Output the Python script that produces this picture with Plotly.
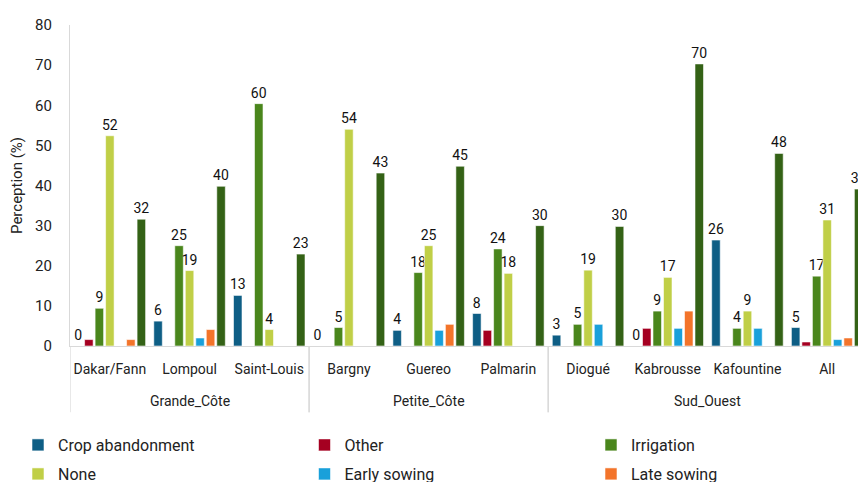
import plotly.graph_objects as go

categories = ["Dakar/Fann", "Lompoul", "Saint-Louis", "Bargny", "Guereo", "Palmarin",
              "Diogué", "Kabrousse", "Kafountine", "All"]
groups = ["Grande_Côte", "Grande_Côte", "Grande_Côte", "Petite_Côte", "Petite_Côte", "Petite_Côte",
          "Sud_Ouest", "Sud_Ouest", "Sud_Ouest", "Sud_Ouest"]

crop_abandonment = [0, 6.2, 12.6, 0, 3.9, 8.1, 2.7, 0, 26.4, 4.6]
other = [1.6, None, None, None, None, 3.9, None, 4.4, None, 1.0]
irrigation = [9.4, 25.0, 60.4, 4.6, 18.3, 24.2, 5.4, 8.7, 4.4, 17.4]
none_ = [52.4, 18.8, 4.1, 54.0, 25.0, 18.1, 18.9, 17.1, 8.7, 31.4]
early_sowing = [None, 2.0, None, None, 3.9, None, 5.4, 4.4, 4.4, 1.6]
late_sowing = [1.6, 4.1, None, None, 5.4, None, None, 8.7, None, 2.0]
series7 = [31.6, 39.8, 22.9, 43.1, 44.8, 30.0, 29.8, 70.3, 48.0, 39.1]

y_ticks = [0, 10, 20, 30, 40, 50, 60, 70, 80]

FONT = "Roboto, 'DejaVu Sans', sans-serif"
LINE = "#D9D9D9"
TXT = "#222222"

# name, values, colour, show value labels, legend id, legend column, legend row
series = [
    ("Crop abandonment", crop_abandonment, "#0E5E85", True, "legend", 0, 0),
    ("Other", other, "#A50021", False, "legend2", 1, 0),
    ("Irrigation", irrigation, "#4A861C", True, "legend3", 2, 0),
    ("None", none_, "#C0CF47", True, "legend4", 0, 1),
    ("Early sowing", early_sowing, "#19A0DA", False, "legend5", 1, 1),
    ("Late sowing", late_sowing, "#F3742A", False, "legend6", 2, 1),
    ("Series 7", series7, "#346216", True, None, None, None),
]

fig = go.Figure()
legend_layouts = {}
PLOT_W, PLOT_H, ML, MT = 788, 321, 70, 25
for name, vals, color, labelled, leg, col, row in series:
    kw = {}
    if labelled:
        kw = dict(texttemplate="%{y:.0f}", textposition="outside",
                  textfont=dict(family=FONT, size=14, color="#111111"),
                  constraintext="none", cliponaxis=True)
    fig.add_trace(go.Bar(
        x=categories, y=vals, name=name,
        marker=dict(color=color, line=dict(color="rgba(255,255,255,0.7)", width=0.8)),
        showlegend=leg is not None,
        legend=leg if leg else "legend",
        **kw,
    ))
    if leg:
        left_px = 18 + col * 286.5
        center_px = 445 + row * 29
        legend_layouts[leg] = dict(
            orientation="h", xanchor="left", yanchor="middle",
            x=(left_px - ML) / PLOT_W, y=(MT + PLOT_H - center_px) / PLOT_H,
            font=dict(family=FONT, size=16, color=TXT), bgcolor="rgba(0,0,0,0)")

# group dividers & labels
group_names = []
for g in groups:
    if g not in group_names:
        group_names.append(g)

shapes = []
annotations = []
for g in group_names:
    idx = [i for i, gg in enumerate(groups) if gg == g]
    start, end = idx[0] - 0.5, idx[-1] + 0.5
    for xb in (start, end):
        shapes.append(dict(type="line", xref="x", yref="paper", x0=xb, x1=xb,
                           y0=0, y1=-0.206, line=dict(color=LINE, width=1.2)))
    annotations.append(dict(text=g, xref="x", yref="paper", x=(idx[0] + idx[-1]) / 2,
                            y=-0.171, showarrow=False, yanchor="middle",
                            font=dict(family=FONT, size=14, color=TXT)))

fig.update_layout(
    width=858, height=482,
    paper_bgcolor="white", plot_bgcolor="white",
    margin=dict(l=ML, r=0, t=MT, b=136, autoexpand=False),
    barmode="group", bargap=0.078, bargroupgap=0.19,
    font=dict(family=FONT, size=14, color=TXT),
    xaxis=dict(range=[-0.5, 9.387], showline=True, linecolor=LINE, linewidth=1.2,
               ticks="outside", ticklen=10, tickcolor="rgba(0,0,0,0)",
               tickfont=dict(family=FONT, size=14, color=TXT), showgrid=False),
    yaxis=dict(range=[0, 80], tickvals=y_ticks, showgrid=False, zeroline=False,
               showline=True, linecolor=LINE, linewidth=1.2,
               ticks="outside", ticklen=14, tickcolor="rgba(0,0,0,0)",
               tickfont=dict(family=FONT, size=15, color=TXT),
               title=dict(text="Perception (%)", font=dict(family=FONT, size=15, color=TXT),
                          standoff=8)),
    shapes=shapes,
    annotations=annotations,
    **legend_layouts,
)

fig.write_html("out.html", config={"displayModeBar": False},
               post_script="document.body.style.margin='0px';")
